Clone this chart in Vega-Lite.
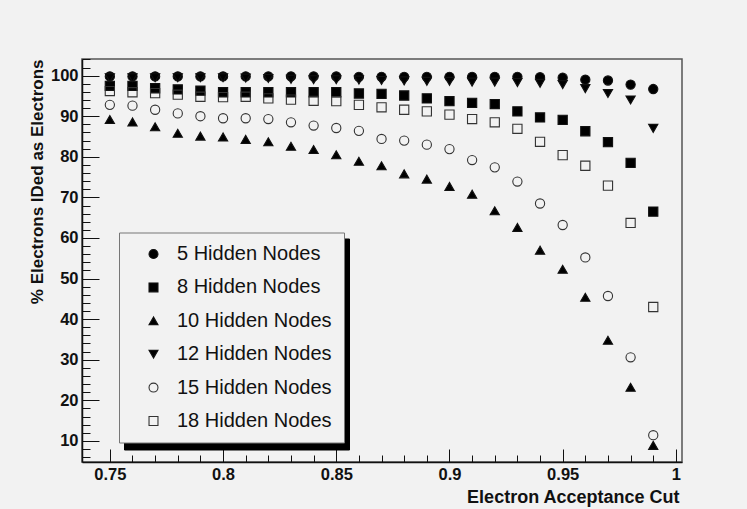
{
  "$schema": "https://vega.github.io/schema/vega-lite/v6.json",
  "width": 600,
  "height": 403,
  "autosize": "none",
  "padding": {"left": 82, "top": 59, "right": 65, "bottom": 47},
  "background": "#f2f2f2",
  "config": {
    "font": "Liberation Sans",
    "view": {"stroke": "#555", "strokeWidth": 1.5, "fill": "#f2f2f2"}
  },
  "data": {
    "values": [
      {"cut": 0.75, "series": "5 Hidden Nodes", "pct": 99.8},
      {"cut": 0.76, "series": "5 Hidden Nodes", "pct": 99.8},
      {"cut": 0.77, "series": "5 Hidden Nodes", "pct": 99.8},
      {"cut": 0.78, "series": "5 Hidden Nodes", "pct": 99.8},
      {"cut": 0.79, "series": "5 Hidden Nodes", "pct": 99.8},
      {"cut": 0.80, "series": "5 Hidden Nodes", "pct": 99.8},
      {"cut": 0.81, "series": "5 Hidden Nodes", "pct": 99.8},
      {"cut": 0.82, "series": "5 Hidden Nodes", "pct": 99.8},
      {"cut": 0.83, "series": "5 Hidden Nodes", "pct": 99.8},
      {"cut": 0.84, "series": "5 Hidden Nodes", "pct": 99.8},
      {"cut": 0.85, "series": "5 Hidden Nodes", "pct": 99.8},
      {"cut": 0.86, "series": "5 Hidden Nodes", "pct": 99.7},
      {"cut": 0.87, "series": "5 Hidden Nodes", "pct": 99.7},
      {"cut": 0.88, "series": "5 Hidden Nodes", "pct": 99.7},
      {"cut": 0.89, "series": "5 Hidden Nodes", "pct": 99.7},
      {"cut": 0.90, "series": "5 Hidden Nodes", "pct": 99.7},
      {"cut": 0.91, "series": "5 Hidden Nodes", "pct": 99.7},
      {"cut": 0.92, "series": "5 Hidden Nodes", "pct": 99.7},
      {"cut": 0.93, "series": "5 Hidden Nodes", "pct": 99.7},
      {"cut": 0.94, "series": "5 Hidden Nodes", "pct": 99.6},
      {"cut": 0.95, "series": "5 Hidden Nodes", "pct": 99.5},
      {"cut": 0.96, "series": "5 Hidden Nodes", "pct": 99.0},
      {"cut": 0.97, "series": "5 Hidden Nodes", "pct": 98.8},
      {"cut": 0.98, "series": "5 Hidden Nodes", "pct": 97.8},
      {"cut": 0.99, "series": "5 Hidden Nodes", "pct": 96.7},

      {"cut": 0.75, "series": "8 Hidden Nodes", "pct": 97.5},
      {"cut": 0.76, "series": "8 Hidden Nodes", "pct": 97.5},
      {"cut": 0.77, "series": "8 Hidden Nodes", "pct": 96.9},
      {"cut": 0.78, "series": "8 Hidden Nodes", "pct": 96.6},
      {"cut": 0.79, "series": "8 Hidden Nodes", "pct": 96.3},
      {"cut": 0.80, "series": "8 Hidden Nodes", "pct": 95.9},
      {"cut": 0.81, "series": "8 Hidden Nodes", "pct": 95.9},
      {"cut": 0.82, "series": "8 Hidden Nodes", "pct": 95.9},
      {"cut": 0.83, "series": "8 Hidden Nodes", "pct": 95.9},
      {"cut": 0.84, "series": "8 Hidden Nodes", "pct": 95.9},
      {"cut": 0.85, "series": "8 Hidden Nodes", "pct": 95.9},
      {"cut": 0.86, "series": "8 Hidden Nodes", "pct": 95.6},
      {"cut": 0.87, "series": "8 Hidden Nodes", "pct": 95.5},
      {"cut": 0.88, "series": "8 Hidden Nodes", "pct": 95.1},
      {"cut": 0.89, "series": "8 Hidden Nodes", "pct": 94.4},
      {"cut": 0.90, "series": "8 Hidden Nodes", "pct": 93.7},
      {"cut": 0.91, "series": "8 Hidden Nodes", "pct": 93.3},
      {"cut": 0.92, "series": "8 Hidden Nodes", "pct": 93.0},
      {"cut": 0.93, "series": "8 Hidden Nodes", "pct": 91.2},
      {"cut": 0.94, "series": "8 Hidden Nodes", "pct": 89.7},
      {"cut": 0.95, "series": "8 Hidden Nodes", "pct": 89.1},
      {"cut": 0.96, "series": "8 Hidden Nodes", "pct": 86.3},
      {"cut": 0.97, "series": "8 Hidden Nodes", "pct": 83.6},
      {"cut": 0.98, "series": "8 Hidden Nodes", "pct": 78.5},
      {"cut": 0.99, "series": "8 Hidden Nodes", "pct": 66.5},

      {"cut": 0.75, "series": "10 Hidden Nodes", "pct": 89.2},
      {"cut": 0.76, "series": "10 Hidden Nodes", "pct": 88.6},
      {"cut": 0.77, "series": "10 Hidden Nodes", "pct": 87.4},
      {"cut": 0.78, "series": "10 Hidden Nodes", "pct": 85.8},
      {"cut": 0.79, "series": "10 Hidden Nodes", "pct": 85.1},
      {"cut": 0.80, "series": "10 Hidden Nodes", "pct": 84.9},
      {"cut": 0.81, "series": "10 Hidden Nodes", "pct": 84.3},
      {"cut": 0.82, "series": "10 Hidden Nodes", "pct": 83.7},
      {"cut": 0.83, "series": "10 Hidden Nodes", "pct": 82.6},
      {"cut": 0.84, "series": "10 Hidden Nodes", "pct": 81.8},
      {"cut": 0.85, "series": "10 Hidden Nodes", "pct": 80.5},
      {"cut": 0.86, "series": "10 Hidden Nodes", "pct": 78.9},
      {"cut": 0.87, "series": "10 Hidden Nodes", "pct": 77.8},
      {"cut": 0.88, "series": "10 Hidden Nodes", "pct": 75.8},
      {"cut": 0.89, "series": "10 Hidden Nodes", "pct": 74.5},
      {"cut": 0.90, "series": "10 Hidden Nodes", "pct": 72.7},
      {"cut": 0.91, "series": "10 Hidden Nodes", "pct": 70.8},
      {"cut": 0.92, "series": "10 Hidden Nodes", "pct": 66.7},
      {"cut": 0.93, "series": "10 Hidden Nodes", "pct": 62.6},
      {"cut": 0.94, "series": "10 Hidden Nodes", "pct": 57.0},
      {"cut": 0.95, "series": "10 Hidden Nodes", "pct": 52.3},
      {"cut": 0.96, "series": "10 Hidden Nodes", "pct": 45.4},
      {"cut": 0.97, "series": "10 Hidden Nodes", "pct": 34.8},
      {"cut": 0.98, "series": "10 Hidden Nodes", "pct": 23.2},
      {"cut": 0.99, "series": "10 Hidden Nodes", "pct": 8.9},

      {"cut": 0.75, "series": "12 Hidden Nodes", "pct": 99.5},
      {"cut": 0.76, "series": "12 Hidden Nodes", "pct": 99.5},
      {"cut": 0.77, "series": "12 Hidden Nodes", "pct": 99.5},
      {"cut": 0.78, "series": "12 Hidden Nodes", "pct": 99.5},
      {"cut": 0.79, "series": "12 Hidden Nodes", "pct": 99.5},
      {"cut": 0.80, "series": "12 Hidden Nodes", "pct": 99.5},
      {"cut": 0.81, "series": "12 Hidden Nodes", "pct": 99.4},
      {"cut": 0.82, "series": "12 Hidden Nodes", "pct": 99.3},
      {"cut": 0.83, "series": "12 Hidden Nodes", "pct": 99.1},
      {"cut": 0.84, "series": "12 Hidden Nodes", "pct": 99.0},
      {"cut": 0.85, "series": "12 Hidden Nodes", "pct": 99.0},
      {"cut": 0.86, "series": "12 Hidden Nodes", "pct": 98.9},
      {"cut": 0.87, "series": "12 Hidden Nodes", "pct": 98.8},
      {"cut": 0.88, "series": "12 Hidden Nodes", "pct": 98.7},
      {"cut": 0.89, "series": "12 Hidden Nodes", "pct": 98.6},
      {"cut": 0.90, "series": "12 Hidden Nodes", "pct": 98.6},
      {"cut": 0.91, "series": "12 Hidden Nodes", "pct": 98.4},
      {"cut": 0.92, "series": "12 Hidden Nodes", "pct": 98.4},
      {"cut": 0.93, "series": "12 Hidden Nodes", "pct": 98.3},
      {"cut": 0.94, "series": "12 Hidden Nodes", "pct": 98.1},
      {"cut": 0.95, "series": "12 Hidden Nodes", "pct": 97.8},
      {"cut": 0.96, "series": "12 Hidden Nodes", "pct": 96.8},
      {"cut": 0.97, "series": "12 Hidden Nodes", "pct": 95.6},
      {"cut": 0.98, "series": "12 Hidden Nodes", "pct": 94.0},
      {"cut": 0.99, "series": "12 Hidden Nodes", "pct": 87.0},

      {"cut": 0.75, "series": "15 Hidden Nodes", "pct": 92.8},
      {"cut": 0.76, "series": "15 Hidden Nodes", "pct": 92.6},
      {"cut": 0.77, "series": "15 Hidden Nodes", "pct": 91.6},
      {"cut": 0.78, "series": "15 Hidden Nodes", "pct": 90.7},
      {"cut": 0.79, "series": "15 Hidden Nodes", "pct": 90.0},
      {"cut": 0.80, "series": "15 Hidden Nodes", "pct": 89.5},
      {"cut": 0.81, "series": "15 Hidden Nodes", "pct": 89.5},
      {"cut": 0.82, "series": "15 Hidden Nodes", "pct": 89.3},
      {"cut": 0.83, "series": "15 Hidden Nodes", "pct": 88.5},
      {"cut": 0.84, "series": "15 Hidden Nodes", "pct": 87.7},
      {"cut": 0.85, "series": "15 Hidden Nodes", "pct": 87.1},
      {"cut": 0.86, "series": "15 Hidden Nodes", "pct": 86.4},
      {"cut": 0.87, "series": "15 Hidden Nodes", "pct": 84.4},
      {"cut": 0.88, "series": "15 Hidden Nodes", "pct": 84.0},
      {"cut": 0.89, "series": "15 Hidden Nodes", "pct": 83.0},
      {"cut": 0.90, "series": "15 Hidden Nodes", "pct": 81.9},
      {"cut": 0.91, "series": "15 Hidden Nodes", "pct": 79.2},
      {"cut": 0.92, "series": "15 Hidden Nodes", "pct": 77.4},
      {"cut": 0.93, "series": "15 Hidden Nodes", "pct": 73.9},
      {"cut": 0.94, "series": "15 Hidden Nodes", "pct": 68.5},
      {"cut": 0.95, "series": "15 Hidden Nodes", "pct": 63.2},
      {"cut": 0.96, "series": "15 Hidden Nodes", "pct": 55.2},
      {"cut": 0.97, "series": "15 Hidden Nodes", "pct": 45.7},
      {"cut": 0.98, "series": "15 Hidden Nodes", "pct": 30.6},
      {"cut": 0.99, "series": "15 Hidden Nodes", "pct": 11.4},

      {"cut": 0.75, "series": "18 Hidden Nodes", "pct": 96.2},
      {"cut": 0.76, "series": "18 Hidden Nodes", "pct": 95.9},
      {"cut": 0.77, "series": "18 Hidden Nodes", "pct": 95.7},
      {"cut": 0.78, "series": "18 Hidden Nodes", "pct": 95.3},
      {"cut": 0.79, "series": "18 Hidden Nodes", "pct": 94.8},
      {"cut": 0.80, "series": "18 Hidden Nodes", "pct": 94.7},
      {"cut": 0.81, "series": "18 Hidden Nodes", "pct": 94.8},
      {"cut": 0.82, "series": "18 Hidden Nodes", "pct": 94.4},
      {"cut": 0.83, "series": "18 Hidden Nodes", "pct": 94.1},
      {"cut": 0.84, "series": "18 Hidden Nodes", "pct": 93.8},
      {"cut": 0.85, "series": "18 Hidden Nodes", "pct": 93.7},
      {"cut": 0.86, "series": "18 Hidden Nodes", "pct": 92.8},
      {"cut": 0.87, "series": "18 Hidden Nodes", "pct": 92.2},
      {"cut": 0.88, "series": "18 Hidden Nodes", "pct": 91.6},
      {"cut": 0.89, "series": "18 Hidden Nodes", "pct": 91.2},
      {"cut": 0.90, "series": "18 Hidden Nodes", "pct": 90.4},
      {"cut": 0.91, "series": "18 Hidden Nodes", "pct": 89.3},
      {"cut": 0.92, "series": "18 Hidden Nodes", "pct": 88.5},
      {"cut": 0.93, "series": "18 Hidden Nodes", "pct": 86.9},
      {"cut": 0.94, "series": "18 Hidden Nodes", "pct": 83.7},
      {"cut": 0.95, "series": "18 Hidden Nodes", "pct": 80.4},
      {"cut": 0.96, "series": "18 Hidden Nodes", "pct": 77.8},
      {"cut": 0.97, "series": "18 Hidden Nodes", "pct": 72.9},
      {"cut": 0.98, "series": "18 Hidden Nodes", "pct": 63.7},
      {"cut": 0.99, "series": "18 Hidden Nodes", "pct": 43.0}
    ]
  },
  "mark": {"type": "point", "filled": true, "size": 85, "strokeWidth": 1.1, "opacity": 1},
  "encoding": {
    "x": {
      "field": "cut",
      "type": "quantitative",
      "scale": {"domain": [0.7377, 1.0027], "nice": false, "zero": false},
      "axis": {
        "values": [0.75, 0.76, 0.77, 0.78, 0.79, 0.8, 0.81, 0.82, 0.83, 0.84, 0.85, 0.86, 0.87, 0.88, 0.89, 0.9, 0.91, 0.92, 0.93, 0.94, 0.95, 0.96, 0.97, 0.98, 0.99, 1.0],
        "format": "~g",
        "labelExpr": "round(datum.value*100) % 5 === 0 ? datum.label : ''",
        "tickSize": {"condition": {"test": "round(datum.value*100) % 5 === 0", "value": -13}, "value": -7},
        "tickColor": "#111",
        "tickWidth": 1,
        "domainColor": "#111",
        "domainWidth": 1.5,
        "grid": false,
        "labelOverlap": false,
        "labelFlush": false,
        "labelFontSize": 16.5,
        "labelFontWeight": "bold",
        "labelColor": "#111",
        "labelPadding": 17,
        "title": "Electron Acceptance Cut",
        "titleAnchor": "end",
        "titleAlign": "right",
        "titleBaseline": "alphabetic",
        "titleX": 597,
        "titleY": 40,
        "titleFontSize": 18,
        "titleFontWeight": "bold",
        "titleColor": "#111"
      }
    },
    "y": {
      "field": "pct",
      "type": "quantitative",
      "scale": {"domain": [4.8, 104.1], "nice": false, "zero": false},
      "axis": {
        "values": [6, 8, 10, 12, 14, 16, 18, 20, 22, 24, 26, 28, 30, 32, 34, 36, 38, 40, 42, 44, 46, 48, 50, 52, 54, 56, 58, 60, 62, 64, 66, 68, 70, 72, 74, 76, 78, 80, 82, 84, 86, 88, 90, 92, 94, 96, 98, 100, 102, 104],
        "labelExpr": "datum.value % 10 === 0 ? datum.label : ''",
        "tickSize": {"condition": {"test": "datum.value % 10 === 0", "value": -17}, "value": -8},
        "tickColor": "#111",
        "tickWidth": 1,
        "domainColor": "#111",
        "domainWidth": 1.5,
        "grid": false,
        "labelOverlap": false,
        "labelFlush": false,
        "labelFontSize": 16.5,
        "labelFontWeight": "bold",
        "labelColor": "#111",
        "labelPadding": 21,
        "title": "% Electrons IDed as Electrons",
        "titleAnchor": "end",
        "titleFontSize": 17,
        "titleFontWeight": "bold",
        "titleColor": "#111",
        "titlePadding": 4
      }
    },
    "shape": {
      "field": "series",
      "type": "nominal",
      "scale": {
        "domain": ["5 Hidden Nodes", "8 Hidden Nodes", "10 Hidden Nodes", "12 Hidden Nodes", "15 Hidden Nodes", "18 Hidden Nodes"],
        "range": ["circle", "square", "triangle-up", "triangle-down", "circle", "square"]
      },
      "legend": {
        "orient": "none", "legendX": 37, "legendY": 173.5, "title": null,
        "fillColor": "#f2f2f2", "strokeColor": "#777", "padding": 11.5,
        "symbolOffset": 13, "labelOffset": 13.5, "labelFontSize": 20, "labelColor": "#111",
        "rowPadding": 13.4, "symbolSize": 80, "symbolStrokeWidth": 1.1, "zindex": 2
      }
    },
    "fill": {
      "field": "series",
      "type": "nominal",
      "scale": {
        "domain": ["5 Hidden Nodes", "8 Hidden Nodes", "10 Hidden Nodes", "12 Hidden Nodes", "15 Hidden Nodes", "18 Hidden Nodes"],
        "range": ["#000000", "#000000", "#000000", "#000000", "transparent", "transparent"]
      },
      "legend": {
        "orient": "none", "legendX": 37, "legendY": 173.5, "title": null,
        "fillColor": "#f2f2f2", "strokeColor": "#777", "padding": 11.5,
        "symbolOffset": 13, "labelOffset": 13.5, "labelFontSize": 20, "labelColor": "#111",
        "rowPadding": 13.4, "symbolSize": 80, "symbolStrokeWidth": 1.1, "zindex": 2
      }
    },
    "stroke": {
      "field": "series",
      "type": "nominal",
      "scale": {
        "domain": ["5 Hidden Nodes", "8 Hidden Nodes", "10 Hidden Nodes", "12 Hidden Nodes", "15 Hidden Nodes", "18 Hidden Nodes"],
        "range": ["#111111", "#111111", "#111111", "#111111", "#333333", "#333333"]
      },
      "legend": {
        "orient": "none", "legendX": 37, "legendY": 173.5, "title": null,
        "fillColor": "#f2f2f2", "strokeColor": "#777", "padding": 11.5,
        "symbolOffset": 13, "labelOffset": 13.5, "labelFontSize": 20, "labelColor": "#111",
        "rowPadding": 13.4, "symbolSize": 80, "symbolStrokeWidth": 1.1, "zindex": 2
      }
    },
    "opacity": {
      "field": "series",
      "type": "nominal",
      "scale": {"range": [1, 1]},
      "legend": {
        "orient": "none", "legendX": 42, "legendY": 179.5, "title": null,
        "fillColor": "#000000", "strokeColor": "#000000", "padding": 11.5,
        "labelExpr": "''",
        "symbolOffset": 178, "labelOffset": 0, "labelFontSize": 20, "labelColor": "#000000",
        "rowPadding": 6.8, "symbolSize": 400, "symbolFillColor": "#000000", "symbolStrokeColor": "#000000", "zindex": 1
      }
    }
  }
}
